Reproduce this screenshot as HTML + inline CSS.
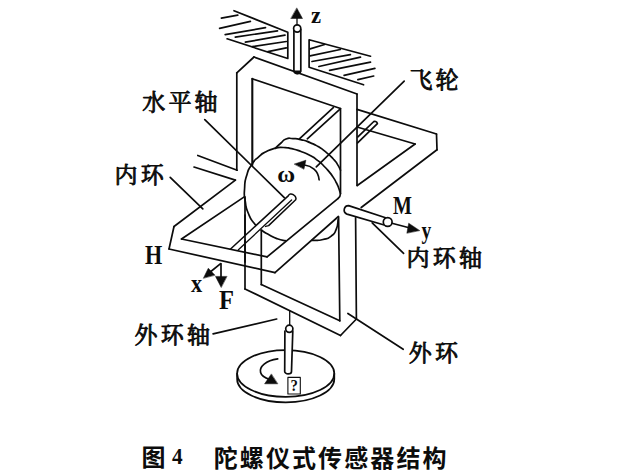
<!DOCTYPE html>
<html lang="zh"><head><meta charset="utf-8"><title>图4 陀螺仪式传感器结构</title>
<style>
html,body{margin:0;padding:0;background:#fff;}
body{width:638px;height:476px;overflow:hidden;font-family:"Liberation Serif",serif;}
svg{display:block;}
</style></head><body>
<svg width="638" height="476" viewBox="0 0 638 476" role="img" aria-label="图4 陀螺仪式传感器结构: 飞轮, 水平轴, 内环, 内环轴, 外环, 外环轴, H, M, F, x, y, z, ω">
<title>图4 陀螺仪式传感器结构</title>
<desc>陀螺仪式传感器结构示意图: 飞轮, 水平轴, 内环, 内环轴, 外环, 外环轴; 轴 x, y, z; 角速度 ω; H, M, F</desc>
<rect width="638" height="476" fill="#fff"/>
<g fill="none" stroke="#0c0c0c" stroke-width="1.7" stroke-linecap="round" stroke-linejoin="round">
<path d="M234.0 10.7L287.8 32.3L287.8 58.5L227.1 38.8"/>
<path d="M221.4 18.2L237.8 15.1"/>
<path d="M219.6 28.3L250.4 21.4"/>
<path d="M225.2 34.6L265.5 27.7"/>
<path d="M235.3 37.1L277.5 30.8"/>
<path d="M245.4 42.2L285.0 35.2"/>
<path d="M252.3 46.6L286.3 41.5"/>
<path d="M268.0 51.6L286.3 47.8"/>
<path d="M370.5 56.2L309.1 39.8L309.1 67.2L363.6 84.8"/>
<path d="M310.1 48.9L324.6 44.5"/>
<path d="M310.1 55.8L340.3 49.5"/>
<path d="M312.0 61.5L350.4 54.6"/>
<path d="M318.9 66.5L360.5 57.1"/>
<path d="M329.6 70.3L370.5 62.1"/>
<path d="M344.1 75.3L374.9 68.4"/>
<path d="M357.9 79.7L373.7 76.0"/>
<path d="M293.9 29.5V70.5A3.4 3.1 0 0 0 300.8 70.5V29.5" fill="#fff"/>
<circle cx="297.2" cy="28.5" r="3.6" fill="#fff"/>
<path d="M294.2 71.3A3.2 2.6 0 0 0 300.5 71.3Z" fill="#0c0c0c"/>
<path d="M297.0 24.8L297.0 17.0" stroke-width="1.3"/>
<path d="M296.9 8.2L302.5 18.5H291.1Z" stroke-width="0.5" fill="#0c0c0c"/>
<path d="M236.8 72.8L236.8 170.2"/>
<path d="M236.8 72.8L254.0 57.0"/>
<path d="M254.0 57.0L357.0 94.0"/>
<path d="M252.3 78.8L252.3 165.0" stroke-width="2.1"/>
<path d="M252.3 78.8L340.5 108.5"/>
<path d="M340.5 108.5V193.5Q340.4 196.6 338.2 198.3"/>
<path d="M357.0 94.0L357.0 185.5"/>
<path d="M338.6 217.0L339.8 320.8"/>
<path d="M355.6 217.8L356.4 319.0"/>
<path d="M245.0 197.0L245.0 288.9"/>
<path d="M261.3 229.5L261.3 284.6"/>
<path d="M245.0 288.9L340.5 335.5"/>
<path d="M261.3 284.6L339.8 320.8"/>
<path d="M340.5 335.5L356.4 319.0"/>
<path d="M357.0 109.4L436.5 134.0"/>
<path d="M436.5 134.0L437.0 149.8"/>
<path d="M357.0 127.0L415.1 144.0"/>
<path d="M415.1 144.0L357.3 185.5"/>
<path d="M437.0 149.8L361.2 207.5"/>
<path d="M338.2 198.3L267.1 256.9"/>
<path d="M338.4 216.5L275.0 272.6"/>
<path d="M169.0 249.0L275.0 272.6"/>
<path d="M181.5 239.0L267.1 256.9"/>
<path d="M174.0 226.5L169.0 249.0"/>
<path d="M174.0 226.5L235.4 180.1"/>
<path d="M181.5 239.0L244.6 196.6"/>
<path d="M197.8 155.5L237.2 170.2"/>
<path d="M194.0 167.0L235.4 180.1"/>
<path d="M333.3 107.6L299.4 138.8"/>
<path d="M340.0 109.2L307.3 138.8"/>
<path d="M285.2 240.6C282.6 240.0 282.6 240.7 277.3 238.8C272.0 236.9 274.7 237.9 269.4 235.0C264.1 232.1 266.3 233.8 261.3 230.0C256.3 226.2 258.7 229.1 254.4 223.6C250.1 218.1 251.5 221.0 248.4 213.5C245.3 206.0 246.5 209.4 245.2 201.0C243.9 192.6 244.1 196.7 244.6 188.3C245.1 179.9 244.3 183.5 246.6 175.7C248.9 167.9 247.5 171.3 251.5 165.0C255.5 158.7 253.7 161.3 258.7 156.8C263.7 152.3 260.9 154.5 266.5 151.6C272.1 148.7 269.9 149.6 275.6 148.2C281.3 146.8 278.1 147.3 283.5 147.5C288.9 147.7 285.9 147.4 291.7 148.7C297.5 150.0 294.7 149.2 301.0 151.5C307.3 153.8 305.1 152.8 310.6 155.7C316.1 158.6 313.1 156.9 317.5 160.3C321.9 163.7 320.0 162.2 323.8 166.0C327.6 169.8 325.8 167.8 329.0 171.6C332.2 175.4 330.9 173.8 333.3 177.4C335.7 181.0 334.5 179.2 336.2 182.5C337.9 185.8 337.0 183.5 338.4 187.2C339.8 190.9 339.7 191.4 340.4 193.5"/>
<path d="M312.0 240.3C313.8 240.3 313.8 240.6 317.5 240.3C321.2 240.0 318.5 240.8 323.0 239.5C327.5 238.2 326.5 239.7 330.9 236.3C335.3 232.9 333.8 235.0 336.2 229.4C338.6 223.8 337.5 222.8 338.2 219.5"/>
<path d="M275.3 148.3C277.2 146.5 277.4 146.1 281.0 143.0C284.6 139.9 282.0 140.5 286.0 139.0C290.0 137.5 287.8 138.3 293.0 138.6C298.2 138.9 295.8 138.5 301.5 139.8C307.2 141.1 304.5 140.3 310.0 142.6C315.5 144.9 312.8 143.4 318.1 146.6C323.4 149.8 320.9 148.1 326.0 152.2C331.1 156.3 329.4 154.9 333.3 159.0C337.2 163.1 335.2 160.9 337.6 164.6C340.0 168.3 339.5 168.3 340.5 170.2"/>
<path d="M304.5 165C311 165.8 318.5 170 319.1 179.8"/>
<path d="M294.5 164L305.9 160.2L304 168.9Z" stroke-width="0.5" fill="#0c0c0c"/>
<path d="M404.2 81.2L316.3 166.8"/>
<path d="M204.8 119.7L284.3 197.6"/>
<path d="M170.2 177.3L202.8 208.9"/>
<path d="M372.2 222.8L403.6 253.3"/>
<path d="M347.9 313.5L403.2 349.3"/>
<path d="M213.1 333.8L276.7 319.0"/>
<path d="M230.3 249.2L288.5 195.6A3.8 2.8 42 0 1 295.7 199.8L268.6 225.6L265.6 226.4" stroke-width="1.5" fill="#fff"/>
<path d="M291.6 200L238.4 249.8" stroke-width="1.3"/>
<path d="M245.0 215.0L245.0 262.0"/>
<path d="M357.9 136.8L373.3 122A2.4 1.9 40 0 1 377.4 123.6L357.6 142.9"/>
<path d="M385.6 217.8L348.6 205.6A4.4 4.4 0 0 0 347 214.1L383.3 224.8" fill="#fff"/>
<circle cx="387.7" cy="222" r="4.4" fill="#fff"/>
<path d="M391.9 223.3L412.0 228.5"/>
<path d="M419.5 230.4L408.7 223.2L406.9 232.9Z" stroke-width="0.5" fill="#0c0c0c"/>
<path d="M220.6 263.6L209.0 273.0"/>
<path d="M203.5 278L208.3 268.2L214.8 275Z" stroke-width="0.5" fill="#0c0c0c"/>
<path d="M221.0 263.8L221.0 278.0"/>
<path d="M221.1 287.2L215.5 276.4H226.7Z" stroke-width="0.5" fill="#0c0c0c"/>
<path d="M289.7 311.0L289.7 325.3" stroke-width="1.3"/>
<ellipse cx="285.7" cy="373.5" rx="48.6" ry="23.4" fill="#fff"/>
<path d="M237.1 373.5V379A48.6 23.4 0 0 0 334.3 379V373.5"/>
<path d="M284.9 331L284.7 371.4A3.4 2.4 0 0 0 291.5 371.4L292.8 331" fill="#fff"/>
<circle cx="289.3" cy="328.8" r="3.6" fill="#fff"/>
<path d="M277.7 358.9C266 360.5 259 366.5 260.6 372.5C261.6 376 265 378 269.5 379.5"/>
<path d="M271.2 374.2L264.6 383.8H277.5Z" stroke-width="0.5" fill="#0c0c0c"/>
<rect x="287.9" y="377.4" width="12.4" height="16.6" fill="#fff" stroke-width="1.1"/>
</g>
<g fill="#0c0c0c" stroke="none">
<text x="141.5" y="466.4" font-size="24" font-weight="bold" font-family="'Liberation Sans','Noto Sans CJK SC',sans-serif">图</text>
<text transform="matrix(0.2128 0 0 0.2238 171.98 464.00)" font-size="100" font-weight="bold" font-family="'Liberation Serif',serif">4</text>
<text x="213.7" y="466.5" font-size="24" font-weight="bold" letter-spacing="2.1" font-family="'Liberation Sans','Noto Sans CJK SC',sans-serif">陀螺仪式传感器结构</text>
<text transform="matrix(0.2262 0 0 0.2288 311.06 22.80)" font-size="100" font-weight="bold" font-family="'Liberation Serif',serif">z</text>
<text transform="matrix(0.2005 0 0 0.2535 393.06 214.40)" font-size="100" font-weight="bold" font-family="'Liberation Serif',serif">M</text>
<text transform="matrix(0.1956 0 0 0.2534 421.41 239.43)" font-size="100" font-weight="bold" font-family="'Liberation Serif',serif">y</text>
<text transform="matrix(0.2217 0 0 0.2688 145.12 263.90)" font-size="100" font-weight="bold" font-family="'Liberation Serif',serif">H</text>
<text transform="matrix(0.2242 0 0 0.2506 191.11 291.70)" font-size="100" font-weight="bold" font-family="'Liberation Serif',serif">x</text>
<text transform="matrix(0.2455 0 0 0.2642 219.08 309.30)" font-size="100" font-weight="bold" font-family="'Liberation Serif',serif">F</text>
<text transform="matrix(0.2445 0 0 0.2248 277.31 182.18)" font-size="100" font-weight="bold" font-family="'Liberation Serif',serif">ω</text>
<text transform="matrix(0.1474 0 0 0.1627 290.41 390.97)" font-size="100" font-weight="bold" font-family="'Liberation Serif',serif">?</text>
</g>
<g fill="#0c0c0c" stroke="#0c0c0c" stroke-width="0.9" stroke-linejoin="round" font-family="'Liberation Serif','Noto Serif CJK SC',serif" font-size="23" letter-spacing="3.2">
<text x="142.2" y="109.9">水平轴</text>
<text x="114.5" y="182.7">内环</text>
<text x="409.4" y="87.7">飞轮</text>
<text x="406.5" y="265.5">内环轴</text>
<text x="408.8" y="360.7">外环</text>
<text x="134.5" y="343.1">外环轴</text>
</g>
</svg>
</body></html>
